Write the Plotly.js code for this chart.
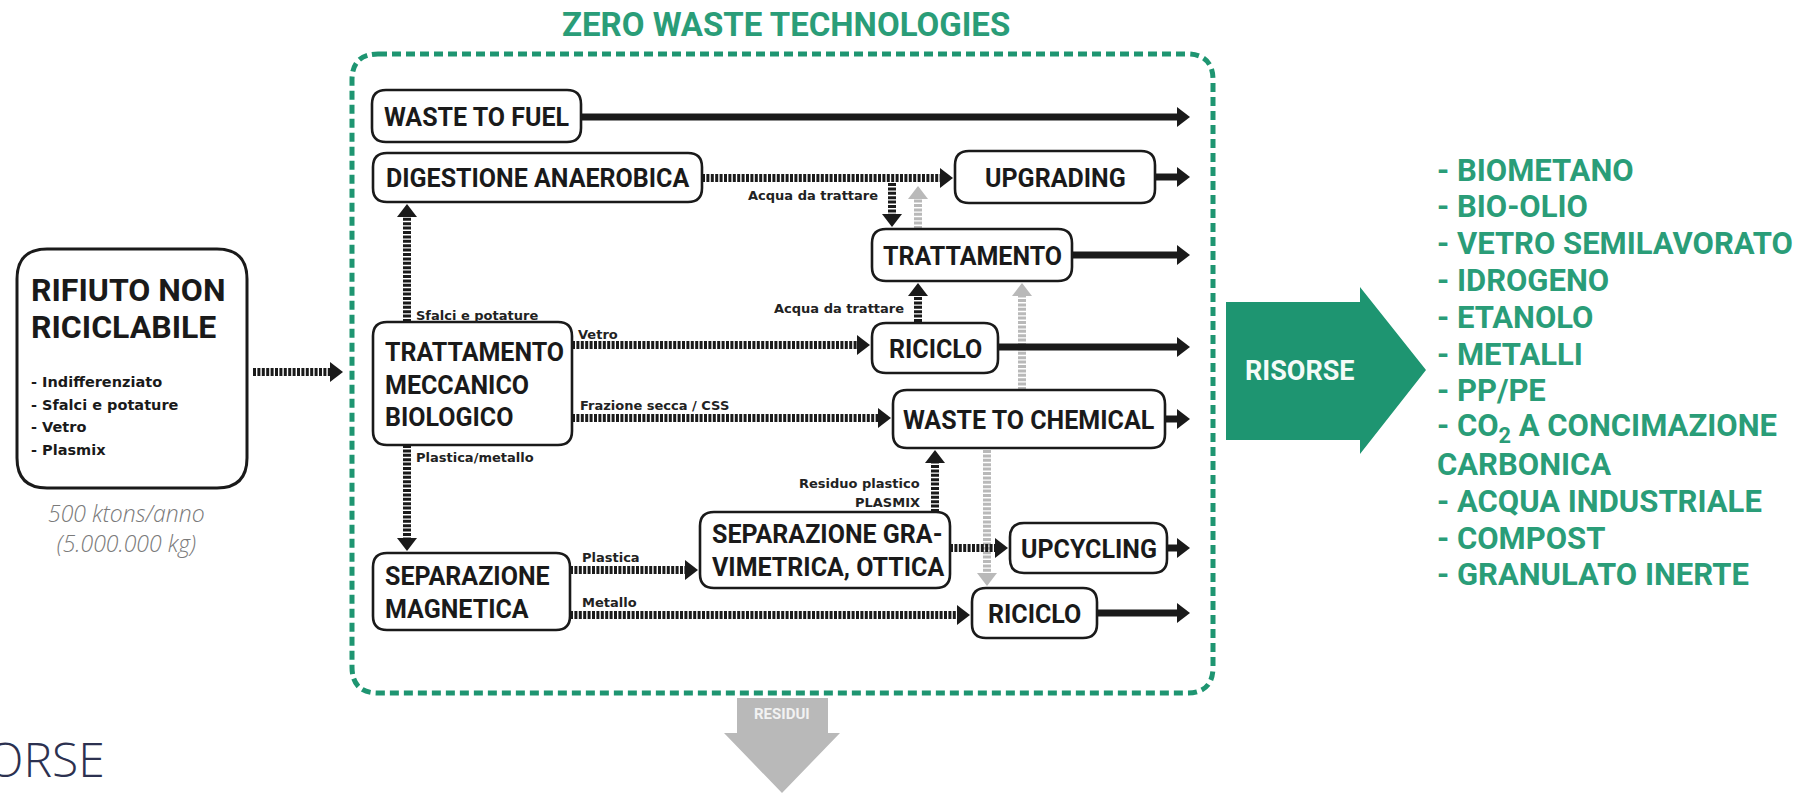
<!DOCTYPE html>
<html><head><meta charset="utf-8">
<script src="https://cdn.plot.ly/plotly-3.0.1.min.js"></script>
<style>html,body{margin:0;padding:0;background:#fff;}#chart{width:1818px;height:793px;}</style>
</head><body><div id="chart"></div>
<script>
// ---------------- content (text) ----------------
const chartTitle = 'ZERO WASTE TECHNOLOGIES';
const sourceTitle = ['RIFIUTO NON', 'RICICLABILE'];
const sourceItems = ['- Indifferenziato', '- Sfalci e potature', '- Vetro', '- Plasmix'];
const sourceAmount = ['500 ktons/anno', '(5.000.000 kg)'];
const processIds = ['wtf','dig','upg','trt','ric1','tmb','wtc','sepm','sepg','upc','ric2'];
const processLabels = ['WASTE TO FUEL','DIGESTIONE ANAEROBICA','UPGRADING','TRATTAMENTO','RICICLO',
  'TRATTAMENTO<br>MECCANICO<br>BIOLOGICO','WASTE TO CHEMICAL','SEPARAZIONE<br>MAGNETICA',
  'SEPARAZIONE GRA-<br>VIMETRICA, OTTICA','UPCYCLING','RICICLO'];
const flowLabels = ['Acqua da trattare','Acqua da trattare','Sfalci e potature','Vetro','Frazione secca / CSS',
  'Plastica/metallo','Plastica','Metallo','Residuo plastico','PLASMIX'];
const resourcesLabel = 'RISORSE';
const resourceItems = ['- BIOMETANO','- BIO-OLIO','- VETRO SEMILAVORATO','- IDROGENO','- ETANOLO','- METALLI',
  '- PP/PE','- CO<sub>2</sub> A CONCIMAZIONE','CARBONICA','- ACQUA INDUSTRIALE','- COMPOST','- GRANULATO INERTE'];
const residueLabel = 'RESIDUI';
const logoText = 'RISORSE';

// ---------------- layout geometry (pixels) ----------------
const W = 1818, H = 793;
const BOX = {
  wtf:[372,90,581,142], dig:[373,153,702,202], upg:[955,151,1155,203], trt:[872,229,1072,281],
  ric1:[872,323,998,373], tmb:[373,322,572,445], wtc:[893,390,1165,448], sepm:[373,553,570,630],
  sepg:[700,512,950,588], upc:[1010,523,1167,573], ric2:[972,588,1097,638]
};
const LEFT_TEXT = {tmb:383, sepm:383, sepg:710};
// [x0,y0,x1,y1,kind]  kind: s=solid, d=dotted, g=gray dotted
const FLOWS = [
  [918,229,918,186,'g'],[1022,390,1022,283,'g'],[987,450,987,586,'g'],
  [581,117,1190,117,'s'],[1155,177,1190,177,'s'],[1072,255,1190,255,'s'],[998,347,1190,347,'s'],
  [1165,419,1190,419,'s'],[1167,548,1190,548,'s'],[1097,613,1190,613,'s'],
  [253,372,343,372,'d'],[702,178,953,178,'d'],[892,183,892,227,'d'],[918,322,918,283,'d'],
  [407,322,407,204,'d'],[572,345,870,345,'d'],[572,418,891,418,'d'],[407,445,407,551,'d'],
  [570,570,698,570,'d'],[935,512,935,450,'d'],[950,548,1008,548,'d'],[570,615,970,615,'d']
];
// [x, y, anchor]
const FLOW_LABEL_POS = [[880,195,'right'],[906,308,'right'],[414,315,'left'],[576,334,'left'],[578,405,'left'],
  [414,457,'left'],[580,557,'left'],[580,602,'left'],[922,483,'right'],[922,502,'right']];

const GREEN = '#1e9571', GREEN_TXT = '#2a9d78', GRAY = '#b9b9b9', INK = '#1a1a1a';
const FONT = 'Roboto, "Open Sans", sans-serif';
const SMALL = '"DejaVu Sans", sans-serif';

function rrect(x0,y0,x1,y1,r){
  return `M${x0+r},${y0} H${x1-r} Q${x1},${y0} ${x1},${y0+r} V${y1-r} Q${x1},${y1} ${x1-r},${y1} `+
         `H${x0+r} Q${x0},${y1} ${x0},${y1-r} V${y0+r} Q${x0},${y0} ${x0+r},${y0} Z`;
}
const shapes = [], ann = [];

// green frame
shapes.push({type:'path', xref:'x', yref:'y', path:rrect(352,54,1213,693,26),
  line:{color:GREEN, width:5, dash:'9px,5px'}});

// source box
shapes.push({type:'path', xref:'x', yref:'y', path:rrect(17,249,247,488,30), line:{color:INK, width:3}});

// arrows
function arrow(f){
  const [x0,y0,x1,y1,k] = f;
  const col = k==='g' ? GRAY : INK;
  const L = 13, Wd = 10;
  const dx = Math.sign(x1-x0), dy = Math.sign(y1-y0);
  const xe = x1 - dx*(L-1), ye = y1 - dy*(L-1);
  shapes.push({type:'line', xref:'x', yref:'y', x0:x0, y0:y0, x1:xe, y1:ye,
    line:{color:col, width:k==='s' ? 7 : 8, dash: k==='s' ? 'solid' : '3px,1.4px'}});
  let p;
  if (dx !== 0) p = `M${x1},${y1} L${x1-dx*L},${y1-Wd} L${x1-dx*L},${y1+Wd} Z`;
  else p = `M${x1},${y1} L${x1-Wd},${y1-dy*L} L${x1+Wd},${y1-dy*L} Z`;
  shapes.push({type:'path', xref:'x', yref:'y', path:p, fillcolor:col, line:{width:0}});
}
FLOWS.forEach(arrow);

// process boxes
processIds.forEach((id,i)=>{
  const [x0,y0,x1,y1] = BOX[id];
  shapes.push({type:'path', xref:'x', yref:'y', path:rrect(x0,y0,x1,y1,14),
    fillcolor:'rgba(255,255,255,0)', line:{color:INK, width:2.6}});
  const lx = LEFT_TEXT[id];
  ann.push({x: lx !== undefined ? lx : (x0+x1)/2, y:(y0+y1)/2+1, xref:'x', yref:'y', showarrow:false,
    xanchor: lx !== undefined ? 'left' : 'center', yanchor:'middle', align:'left',
    text: processLabels[i], font:{family:FONT, size:25, weight:700, color:INK}});
});

// flow labels
flowLabels.forEach((t,i)=>{
  const [x,y,a] = FLOW_LABEL_POS[i];
  ann.push({x:x, y:y, xref:'x', yref:'y', showarrow:false, xanchor:a, yanchor:'middle', text:t,
    font:{family:SMALL, size:13, weight:700, color:'#222222'}});
});

// source text
sourceTitle.forEach((t,i)=>ann.push({x:29, y:290+i*37, xref:'x', yref:'y', showarrow:false, xanchor:'left',
  yanchor:'middle', text:t, font:{family:FONT, size:32, weight:700, color:INK}}));
sourceItems.forEach((t,i)=>ann.push({x:29, y:382+i*22.7, xref:'x', yref:'y', showarrow:false, xanchor:'left',
  yanchor:'middle', text:t, font:{family:SMALL, size:14.5, weight:700, color:INK}}));
ann.push({x:126, y:528, xref:'x', yref:'y', showarrow:false, xanchor:'center', align:'center',
  yanchor:'middle', text:sourceAmount.join('<br>'),
  font:{family:'"Open Sans", sans-serif', size:23, weight:300, style:'italic', color:'#7a7a7a'}});

// title
ann.push({x:786, y:24, xref:'x', yref:'y', showarrow:false, xanchor:'center', yanchor:'middle', text:chartTitle,
  font:{family:FONT, size:33, weight:700, color:GREEN_TXT}});

// RISORSE big arrow
shapes.push({type:'path', xref:'x', yref:'y', fillcolor:GREEN, line:{width:0},
  path:'M1226,302 L1360,302 L1360,287 L1426,370 L1360,454 L1360,440 L1226,440 Z'});
ann.push({x:1300, y:371, xref:'x', yref:'y', showarrow:false, xanchor:'center', yanchor:'middle', text:resourcesLabel,
  font:{family:FONT, size:27, weight:700, color:'#f4fbf8'}});

// resources list
resourceItems.forEach((t,i)=>ann.push({x:1435, y:170+i*36.8, xref:'x', yref:'y', showarrow:false, xanchor:'left',
  yanchor:'middle', text:t, font:{family:FONT, size:31, weight:700, color:GREEN_TXT}}));

// RESIDUI gray arrow
shapes.push({type:'path', xref:'x', yref:'y', fillcolor:GRAY, line:{width:0},
  path:'M737,698 L828,698 L828,733 L840,733 L782,793 L724,733 L737,733 Z'});
ann.push({x:782, y:714, xref:'x', yref:'y', showarrow:false, xanchor:'center', yanchor:'middle', text:residueLabel,
  font:{family:FONT, size:15, weight:700, color:'#f2f2f2'}});

// logo fragment (cut at the left edge, as in the source)
ann.push({x:107, y:758, xref:'x', yref:'y', showarrow:false, xanchor:'right', yanchor:'middle', text:logoText,
  font:{family:'"Open Sans", sans-serif', size:48, weight:300, color:'#2c3150'}});

const layout = {
  width:W, height:H, margin:{l:0,r:0,t:0,b:0}, paper_bgcolor:'#ffffff', plot_bgcolor:'#ffffff',
  xaxis:{range:[0,W], visible:false, fixedrange:true},
  yaxis:{range:[H,0], visible:false, fixedrange:true},
  shapes:shapes, annotations:ann, showlegend:false
};
Plotly.newPlot('chart', [], layout, {staticPlot:true, displayModeBar:false});
</script></body></html>
